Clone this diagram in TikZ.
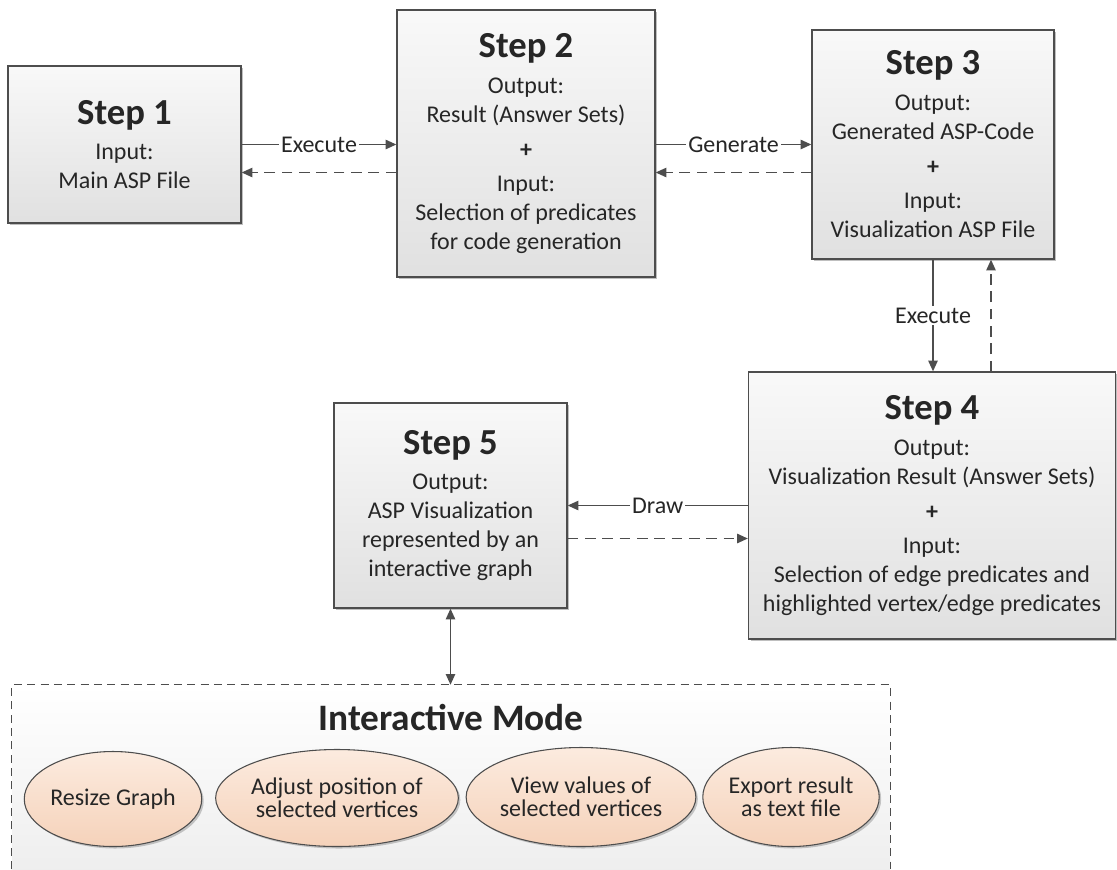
\documentclass[tikz,border=0pt]{standalone}
\usepackage{fontspec}
\setmainfont{Carlito}
\usepackage{xcolor}
\usepackage{tikz}
\usetikzlibrary{arrows.meta, positioning, shapes, shadows, calc}

\definecolor{linegray}{HTML}{4D4D4D}
\definecolor{peachtop}{HTML}{FCEBDF}
\definecolor{peachbot}{HTML}{F5D2BA}

\newcommand{\bodyfont}{\fontsize{18}{21.75}\selectfont}
\newcommand{\steptitle}[1]{{\fontsize{27.5}{30}\selectfont\bfseries #1}}
\newcommand{\plus}{{\bfseries +}}

\begin{document}
\begin{tikzpicture}[x=0.75pt, y=-0.75pt,
  every node/.style={font=\bodyfont, text=black!85},
  stepbox/.style={draw=linegray, line width=1pt, top color=gray!5, bottom color=gray!24, align=center, inner sep=0pt,
    drop shadow={shadow xshift=1.5pt, shadow yshift=-1.5pt, opacity=0.25, fill=black}},
  taskoval/.style={ellipse, draw=linegray, line width=0.8pt, top color=peachtop, bottom color=peachbot, align=center, inner sep=0pt,
    font=\fontsize{18}{17.5}\selectfont, drop shadow={shadow xshift=1.5pt, shadow yshift=-1.5pt, opacity=0.2, fill=black}},
  flow/.style={draw=linegray, line width=1.1pt, -{Triangle[length=8pt, width=7pt]}},
  back/.style={flow, dash pattern=on 8pt off 5pt},
  lbl/.style={fill=white, inner sep=1.5pt}]
\useasboundingbox (0,0) rectangle (1117,869);

% Nodes
\node[stepbox, minimum width=174.75pt, minimum height=117.75pt] (step1) at (124.5,144.5)
  {\steptitle{Step 1}\\[5pt] Input:\\ Main ASP File};

\node[stepbox, minimum width=193.5pt, minimum height=200.25pt] (step2) at (526,143.5)
  {\steptitle{Step 2}\\[5pt] Output:\\ Result (Answer Sets)\\[4.5pt] \plus\\[4pt] Input:\\ Selection of predicates\\ for code generation};

\node[stepbox, minimum width=181.5pt, minimum height=171.75pt] (step3) at (933,144.5)
  {\steptitle{Step 3}\\[5pt] Output:\\ Generated ASP-Code\\[4.5pt] \plus\\[4pt] Input:\\ Visualization ASP File};

\node[stepbox, minimum width=275.25pt, minimum height=200.25pt] (step4) at (932,505.5)
  {\steptitle{Step 4}\\[5pt] Output:\\ Visualization Result (Answer Sets)\\[4.5pt] \plus\\[4pt] Input:\\ Selection of edge predicates and\\ highlighted vertex/edge predicates};

\node[stepbox, minimum width=174.75pt, minimum height=153.75pt] (step5) at (450.5,505.5)
  {\steptitle{Step 5}\\[5pt] Output:\\ ASP Visualization\\ represented by an\\ interactive graph};

% Interactive mode
\node[top color=white, bottom color=gray!13, minimum width=658.5pt, minimum height=138pt, inner sep=0pt] (mode) at (451,777) {};
\draw[linegray, line width=0.8pt, dash pattern=on 6pt off 4pt] (mode.south west) -- (mode.north west) -- (mode.north east) -- (mode.south east);
\node (modetitle) at (451,717) {\fontsize{28}{32}\selectfont\bfseries Interactive Mode};

\node[taskoval, minimum width=130.5pt, minimum height=71.25pt] (resize) at (113,799) {Resize Graph};
\node[taskoval, minimum width=180pt, minimum height=72.75pt] (adjust) at (337,798) {Adjust position of\\ selected vertices};
\node[taskoval, minimum width=161.25pt, minimum height=74.25pt] (values) at (581,797) {View values of\\ selected vertices};
\node[taskoval, minimum width=129pt, minimum height=74.25pt] (export) at (791,797) {Export result\\ as text file};

% Arrows
\draw[flow] (step1.east) -- node[lbl] {Execute} (step1.east -| step2.west);
\draw[back] ($(step1.east -| step2.west)+(0,28)$) -- ($(step1.east)+(0,28)$);

\draw[flow] (step2.east |- step3.west) -- node[lbl] {Generate} (step3.west);
\draw[back] ($(step3.west)+(0,28)$) -- ($(step2.east |- step3.west)+(0,28)$);

\draw[flow] (step3.south) -- node[lbl] {Execute} (step3.south |- step4.north);
\draw[back] ($(step3.south |- step4.north)+(58,0)$) -- ($(step3.south)+(58,0)$);

\draw[flow] (step4.west) -- node[lbl] {Draw} (step5.east);
\draw[back] ($(step5.east)+(0,33)$) -- ($(step4.west)+(0,33)$);

\draw[flow, {Triangle[length=8pt, width=7pt]}-{Triangle[length=8pt, width=7pt]}] (step5.south) -- (step5.south |- mode.north);

\end{tikzpicture}
\end{document}
